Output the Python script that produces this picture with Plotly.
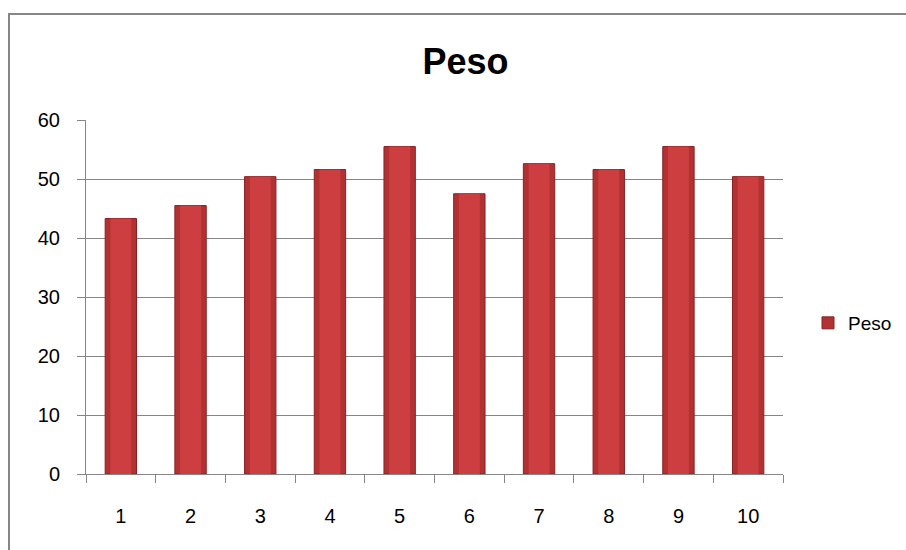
import plotly.graph_objects as go

# Weight per sample
categories = ["1", "2", "3", "4", "5", "6", "7", "8", "9", "10"]
peso = [43.3, 45.5, 50.4, 51.6, 55.5, 47.5, 52.6, 51.6, 55.5, 50.4]
y_ticks = [0, 10, 20, 30, 40, 50, 60]

W, H = 906, 550
L, R, T, B = 86, 123, 120, 76
pw, ph = W - L - R, H - T - B

fig = go.Figure()

# Main bar body with a darker rim
fig.add_trace(go.Bar(
    x=categories, y=peso, name="Peso", width=0.45,
    marker=dict(color="#B23234", line=dict(color="#8A2022", width=1)),
    showlegend=True,
))
# Lighter centre stripe to give the bars a rounded look
fig.add_trace(go.Bar(
    x=categories, y=peso, width=0.30,
    marker=dict(color="#CC3E40", line=dict(width=0)),
    showlegend=False, hoverinfo="skip",
))

grid = "#868686"
fig.update_layout(
    width=W, height=H,
    margin=dict(l=L, r=R, t=T, b=B, pad=0),
    paper_bgcolor="white", plot_bgcolor="white",
    barmode="overlay",
    font=dict(family="Liberation Sans, Arial, sans-serif", size=20, color="black"),
    title=dict(
        text="<b>Peso</b>", x=465.5 / W, xanchor="center",
        y=1 - 61 / H, yanchor="middle",
        font=dict(size=36, family="Liberation Sans, Arial, sans-serif", color="black"),
    ),
    xaxis=dict(
        type="category", showgrid=False, zeroline=False,
        showline=True, linecolor=grid, linewidth=1,
        ticks="outside", ticklen=8, tickcolor=grid, tickson="boundaries",
        ticklabelstandoff=24,
        tickfont=dict(size=20), range=[-0.5, 9.5], fixedrange=True,
    ),
    yaxis=dict(
        range=[0, 60], tickvals=y_ticks, showgrid=True, gridcolor=grid, gridwidth=1,
        zeroline=False, showline=True, linecolor=grid, linewidth=1,
        ticks="outside", ticklen=8, tickcolor=grid, ticklabelstandoff=13,
        tickfont=dict(size=20),
    ),
    legend=dict(
        xref="container", yref="container",
        x=808 / W, xanchor="left", y=1 - 323 / H, yanchor="middle",
        font=dict(size=19), bgcolor="rgba(0,0,0,0)", borderwidth=0,
    ),
    shapes=[
        # outer chart border (top and left edges visible)
        dict(type="rect", xref="paper", yref="paper",
             x0=(9 - L) / pw, x1=(W + 20 - L) / pw,
             y0=(H - B - (H + 20)) / ph, y1=(H - B - 14) / ph,
             line=dict(color=grid, width=2), fillcolor="rgba(0,0,0,0)", layer="below"),
    ],
)

fig.write_html("out.html")
